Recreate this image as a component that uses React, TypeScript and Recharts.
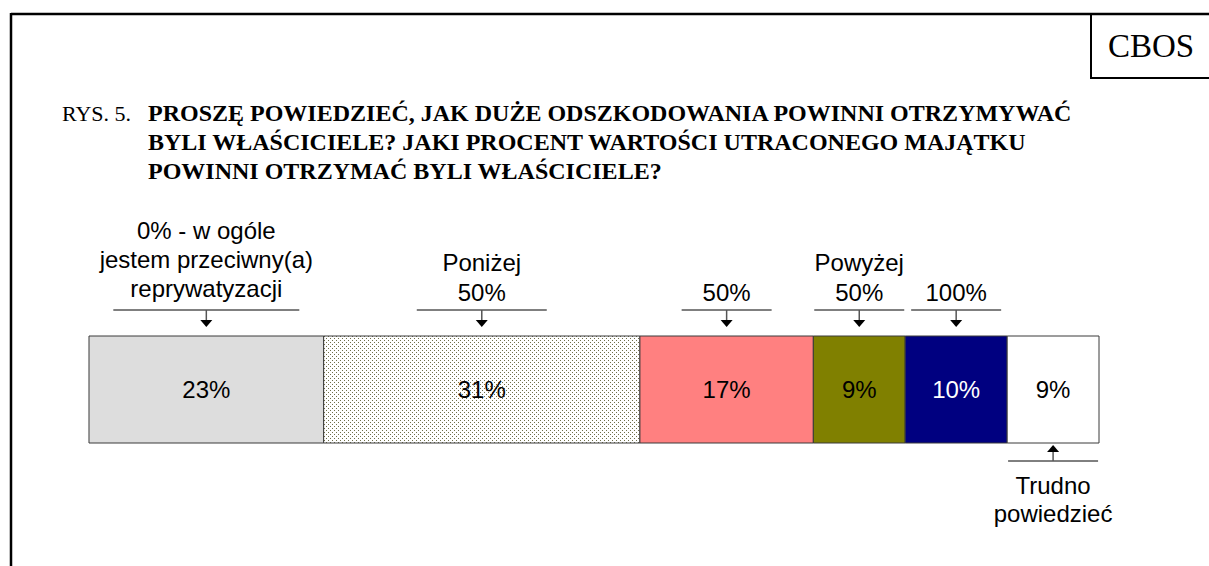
import React from 'react';
import { BarChart, Bar, XAxis, YAxis, LabelList } from 'recharts';

// ---- data ----
const categories: string[] = [
  '0% - w ogóle\njestem przeciwny(a)\nreprywatyzacji',
  'Poniżej\n50%',
  '50%',
  'Powyżej\n50%',
  '100%',
  'Trudno\npowiedzieć',
];
const values: number[] = [23, 31, 17, 9, 10, 9];
const valueLabels: string[] = ['23%', '31%', '17%', '9%', '10%', '9%'];
const calloutBelow: boolean[] = [false, false, false, false, false, true];

const titlePrefix = 'RYS. 5.';
const titleLines: string[] = [
  'PROSZĘ POWIEDZIEĆ, JAK DUŻE ODSZKODOWANIA POWINNI OTRZYMYWAĆ',
  'BYLI WŁAŚCICIELE? JAKI PROCENT WARTOŚCI UTRACONEGO MAJĄTKU',
  'POWINNI OTRZYMAĆ BYLI WŁAŚCICIELE?',
];
const sourceLabel = 'CBOS';

// ---- styles ----
const fills = ['#dddddd', 'url(#dotsPattern)', '#ff8080', '#808000', '#000080', '#ffffff'];
const textColors = ['#000', '#000', '#000', '#000', '#fff', '#000'];
const calloutLineWidths = [186, 130, 90, 90, 90, 90];
const calloutLineHeights = [29, 30, 30, 30, 30, 28];
const calloutLift = [4, 0, 0, 0, 0, 0];
const SANS = '"Liberation Sans", Arial, sans-serif';
const SERIF = '"Liberation Serif", "Times New Roman", serif';
const FS = 24;

const W = 1209;
const H = 566;

const row: Record<string, number | string> = { name: 'odp' };
values.forEach((v, i) => {
  row['s' + i] = v;
});
const data = [row];
const total = values.reduce((a, b) => a + b, 0);

function makeCallout(idx: number) {
  return (props: any) => {
    const vb = props.viewBox || props;
    const x = Number(vb.x);
    const y = Number(vb.y);
    const w = Number(vb.width);
    const h = Number(vb.height);
    const cx = x + w / 2;
    const lines = categories[idx].split('\n');
    const lw = calloutLineWidths[idx];
    const lh = calloutLineHeights[idx];
    if (!calloutBelow[idx]) {
      const lineY = y - 26;
      const tipY = y - 9;
      return (
        <g key={'co' + idx}>
          <line x1={cx - lw / 2} x2={cx + lw / 2} y1={lineY} y2={lineY} stroke="#000" strokeWidth={1} />
          <line x1={cx} x2={cx} y1={lineY} y2={tipY - 6} stroke="#555" strokeWidth={1.5} />
          <polygon points={`${cx - 6},${tipY - 7} ${cx + 6},${tipY - 7} ${cx},${tipY}`} fill="#000" />
          {lines.map((t, k) => (
            <text
              key={k}
              x={cx}
              y={lineY - 9 - calloutLift[idx] - (lines.length - 1 - k) * lh}
              textAnchor="middle"
              fontFamily={SANS}
              fontSize={FS}
              fill="#000"
            >
              {t}
            </text>
          ))}
        </g>
      );
    }
    const bottom = y + h;
    const lineY = bottom + 18;
    const tipY = bottom + 2;
    return (
      <g key={'co' + idx}>
        <line x1={cx - lw / 2} x2={cx + lw / 2} y1={lineY} y2={lineY} stroke="#000" strokeWidth={1} />
        <line x1={cx} x2={cx} y1={lineY} y2={tipY + 6} stroke="#555" strokeWidth={1.5} />
        <polygon points={`${cx - 6},${tipY + 7} ${cx + 6},${tipY + 7} ${cx},${tipY}`} fill="#000" />
        {lines.map((t, k) => (
          <text
            key={k}
            x={cx}
            y={lineY + 33 + k * lh}
            textAnchor="middle"
            fontFamily={SANS}
            fontSize={FS}
            fill="#000"
          >
            {t}
          </text>
        ))}
      </g>
    );
  };
}

function makeValueLabel(idx: number) {
  return (props: any) => {
    const vb = props.viewBox || props;
    const x = Number(vb.x);
    const y = Number(vb.y);
    const w = Number(vb.width);
    const h = Number(vb.height);
    return (
      <text
        key={'v' + idx}
        x={x + w / 2}
        y={y + h / 2 + 8.5}
        textAnchor="middle"
        fontFamily={SANS}
        fontSize={FS}
        fill={textColors[idx]}
      >
        {valueLabels[idx]}
      </text>
    );
  };
}

export default function App() {
  return (
    <div style={{ position: 'absolute', left: 0, top: 0, width: W, height: H, background: '#fff' }}>
      <svg width={W} height={H} style={{ position: 'absolute', left: 0, top: 0 }}>
        <defs>
          <pattern id="dotsPattern" width={4} height={4} patternUnits="userSpaceOnUse">
            <rect x={0} y={0} width={4} height={4} fill="#ffffff" />
            <rect x={0} y={0} width={1} height={1} fill="#6e6e48" />
            <rect x={2} y={2} width={1} height={1} fill="#6e6e48" />
          </pattern>
        </defs>
        {/* frame */}
        <line x1={11} y1={14} x2={W} y2={14} stroke="#000" strokeWidth={2.5} />
        <line x1={11} y1={13} x2={11} y2={H} stroke="#000" strokeWidth={2.5} />
        {/* CBOS box */}
        <line x1={1091} y1={14} x2={1091} y2={78} stroke="#000" strokeWidth={2} />
        <line x1={1090} y1={78} x2={W} y2={78} stroke="#000" strokeWidth={2} />
        <text x={1151} y={57} textAnchor="middle" fontFamily={SERIF} fontSize={33} fill="#000">
          {sourceLabel}
        </text>
        {/* title */}
        <text x={62} y={121} fontFamily={SERIF} fontSize={22} fill="#000">
          {titlePrefix}
        </text>
        {titleLines.map((t, i) => (
          <text key={i} x={148} y={121 + i * 29} fontFamily={SERIF} fontWeight="bold" fontSize={24} fill="#000">
            {t}
          </text>
        ))}
      </svg>
      <div style={{ position: 'absolute', left: 0, top: 0 }}>
        <BarChart
          width={W}
          height={H}
          data={data}
          layout="vertical"
          margin={{ top: 336, right: 110, bottom: 123, left: 89 }}
          barCategoryGap={0}
          barGap={0}
        >
          <XAxis type="number" hide domain={[0, total]} />
          <YAxis type="category" dataKey="name" hide />
          {values.map((_, i) => (
            <Bar
              key={i}
              dataKey={'s' + i}
              stackId="a"
              fill={fills[i]}
              stroke="#3a3a3a"
              strokeWidth={1}
              isAnimationActive={false}
            >
              <LabelList dataKey={'s' + i} content={makeValueLabel(i)} />
              <LabelList dataKey={'s' + i} content={makeCallout(i)} />
            </Bar>
          ))}
        </BarChart>
      </div>
    </div>
  );
}
